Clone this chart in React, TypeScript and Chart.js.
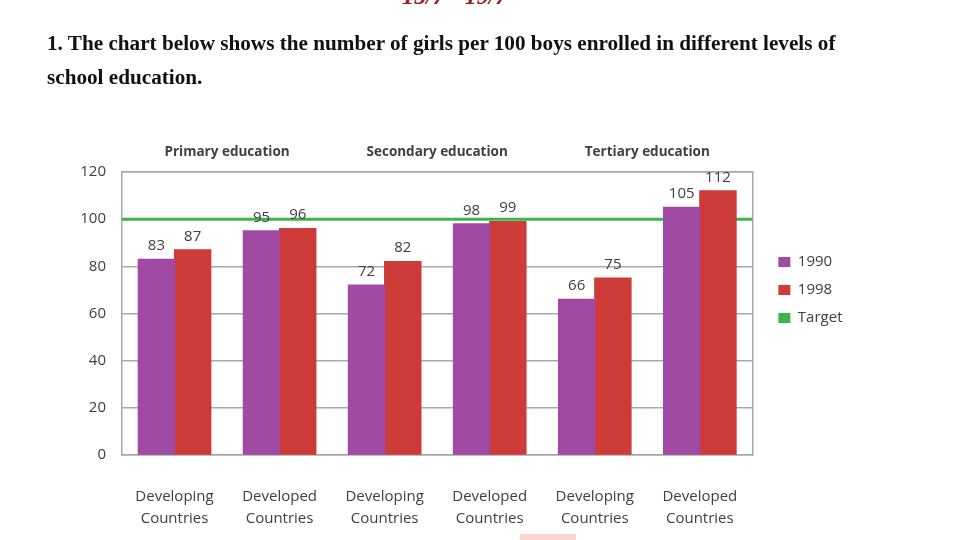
import React, { useEffect, useRef } from "react";
import { Chart, registerables } from "chart.js";

Chart.register(...registerables);

// ---------- data ----------
const groupTitles = ["Primary education", "Secondary education", "Tertiary education"];
const categories = [
  ["Developing", "Countries"],
  ["Developed", "Countries"],
  ["Developing", "Countries"],
  ["Developed", "Countries"],
  ["Developing", "Countries"],
  ["Developed", "Countries"],
];
const seriesNames = ["1990", "1998", "Target"];
const values1990 = [83, 95, 72, 98, 66, 105];
const values1998 = [87, 96, 82, 99, 75, 112];
const targetValues = [100, 100, 100, 100, 100, 100];
const yMin = 0;
const yMax = 120;
const yStep = 20;

// ---------- styles ----------
const PURPLE = "#a04aa3";
const RED = "#cc3b37";
const GREEN = "#3db54b";
const GRID = "#a8a8a8";
const TEXT = "#404040";
const FONT = "'Open Sans', 'Noto Sans', sans-serif";

const valueLabelPlugin = {
  id: "valueLabels",
  afterDatasetsDraw(chart: any) {
    const ctx = chart.ctx;
    ctx.save();
    ctx.font = `15px ${FONT}`;
    ctx.fillStyle = TEXT;
    ctx.textAlign = "center";
    ctx.textBaseline = "bottom";
    chart.data.datasets.forEach((ds: any, di: number) => {
      if (ds.type !== "bar") return;
      const meta = chart.getDatasetMeta(di);
      meta.data.forEach((el: any, i: number) => {
        ctx.fillText(String(ds.data[i]), el.x, el.y - 6);
      });
    });
    ctx.restore();
  },
};

// Target series drawn across the whole plot width, behind the bars
const targetLinePlugin = {
  id: "targetLine",
  beforeDatasetsDraw(chart: any) {
    const idx = chart.data.datasets.findIndex((d: any) => d.label === seriesNames[2]);
    if (idx < 0) return;
    const ds = chart.data.datasets[idx];
    const y = chart.scales.y.getPixelForValue(ds.data[0]);
    const { left, right } = chart.chartArea;
    const ctx = chart.ctx;
    ctx.save();
    ctx.strokeStyle = ds.borderColor;
    ctx.lineWidth = 3;
    ctx.beginPath();
    ctx.moveTo(left, y);
    ctx.lineTo(right, y);
    ctx.stroke();
    ctx.restore();
  },
};

function ChartCanvas() {
  const ref = useRef<HTMLCanvasElement>(null);
  useEffect(() => {
    if (!ref.current) return;
    Chart.defaults.font.family = FONT;
    const chart = new Chart(ref.current, {
      type: "bar",
      data: {
        labels: categories,
        datasets: [
          {
            type: "bar",
            label: seriesNames[0],
            data: values1990,
            backgroundColor: PURPLE,
            borderWidth: 0,
            inflateAmount: 0.6,
            categoryPercentage: 0.69,
            barPercentage: 1,
            order: 1,
          },
          {
            type: "bar",
            label: seriesNames[1],
            data: values1998,
            backgroundColor: RED,
            borderWidth: 0,
            inflateAmount: 0.6,
            categoryPercentage: 0.69,
            barPercentage: 1,
            order: 1,
          },
          {
            type: "line",
            label: seriesNames[2],
            data: targetValues,
            borderColor: GREEN,
            backgroundColor: GREEN,
            borderWidth: 3,
            showLine: false,
            pointRadius: 0,
            pointHoverRadius: 0,
            order: 2,
          },
        ] as any,
      },
      options: {
        responsive: false,
        maintainAspectRatio: false,
        animation: false,
        layout: { padding: { left: 0, right: 122.5, top: 0, bottom: 0 } },
        plugins: {
          tooltip: { enabled: false },
          title: { display: false },
          legend: {
            position: "right",
            labels: {
              boxWidth: 12,
              boxHeight: 10,
              padding: 13,
              color: TEXT,
              font: { size: 15, family: FONT },
              generateLabels: (c: any) =>
                (Chart.defaults.plugins.legend.labels as any)
                  .generateLabels(c)
                  .map((it: any) => ({ ...it, lineWidth: 0 })),
            },
          },
        },
        scales: {
          x: {
            type: "category",
            position: "bottom",
            offset: true,
            grid: { display: false, drawTicks: false },
            border: { display: true, color: GRID, width: 1.5 },
            ticks: {
              color: TEXT,
              font: { size: 15, lineHeight: 1.5 },
              padding: 30,
              autoSkip: false,
              maxRotation: 0,
            },
            afterFit: (s: any) => {
              s.height = 85;
            },
          },
          xTop: {
            type: "category",
            position: "top",
            labels: groupTitles,
            offset: true,
            grid: { display: false, drawTicks: false },
            border: { display: true, color: GRID, width: 1.5 },
            ticks: {
              color: TEXT,
              font: { size: 13.5, weight: "bold" },
              padding: 12,
              autoSkip: false,
              maxRotation: 0,
            },
            afterFit: (s: any) => {
              s.height = 132;
            },
          },
          y: {
            type: "linear",
            position: "left",
            min: yMin,
            max: yMax,
            ticks: {
              stepSize: yStep,
              color: TEXT,
              font: { size: 15 },
              padding: 16,
            },
            grid: { color: GRID, lineWidth: 1.5, drawTicks: false },
            border: { display: true, color: GRID, width: 1.5 },
            afterFit: (s: any) => {
              s.width = 122;
            },
          },
          yRight: {
            type: "linear",
            position: "right",
            display: true,
            grid: { display: false, drawTicks: false },
            ticks: { display: false },
            border: { display: true, color: GRID, width: 1.5 },
            afterFit: (s: any) => {
              s.width = 13;
            },
          },
        } as any,
      },
      plugins: [targetLinePlugin, valueLabelPlugin],
    });
    return () => chart.destroy();
  }, []);
  return (
    <canvas
      ref={ref}
      width={975}
      height={500}
      style={{ position: "absolute", left: 0, top: 40, width: 975, height: 500 }}
    />
  );
}

export default function App() {
  return (
    <div
      style={{
        position: "fixed",
        left: 0,
        top: 0,
        width: 975,
        height: 540,
        overflow: "hidden",
        background: "#ffffff",
      }}
    >
      <div
        style={{
          position: "absolute",
          left: 402,
          top: -16,
          fontFamily: "'Liberation Serif', serif",
          fontWeight: "bold",
          fontStyle: "italic",
          fontSize: 24,
          lineHeight: "24px",
          color: "#9b1c1c",
          whiteSpace: "nowrap",
        }}
      >
        15/7 - 19/7
      </div>
      <ChartCanvas />
      <div
        style={{
          position: "absolute",
          left: 47,
          top: 26,
          fontFamily: "'Liberation Serif', 'Times New Roman', serif",
          fontWeight: "bold",
          fontSize: 21.2,
          lineHeight: "34px",
          color: "#111111",
          whiteSpace: "nowrap",
        }}
      >
        1. The chart below shows the number of girls per 100 boys enrolled in different levels of
        <br />
        school education.
      </div>
      <div style={{ position: "absolute", left: 520, top: 534, width: 56, height: 6, background: "#fbd5cc" }} />
    </div>
  );
}
